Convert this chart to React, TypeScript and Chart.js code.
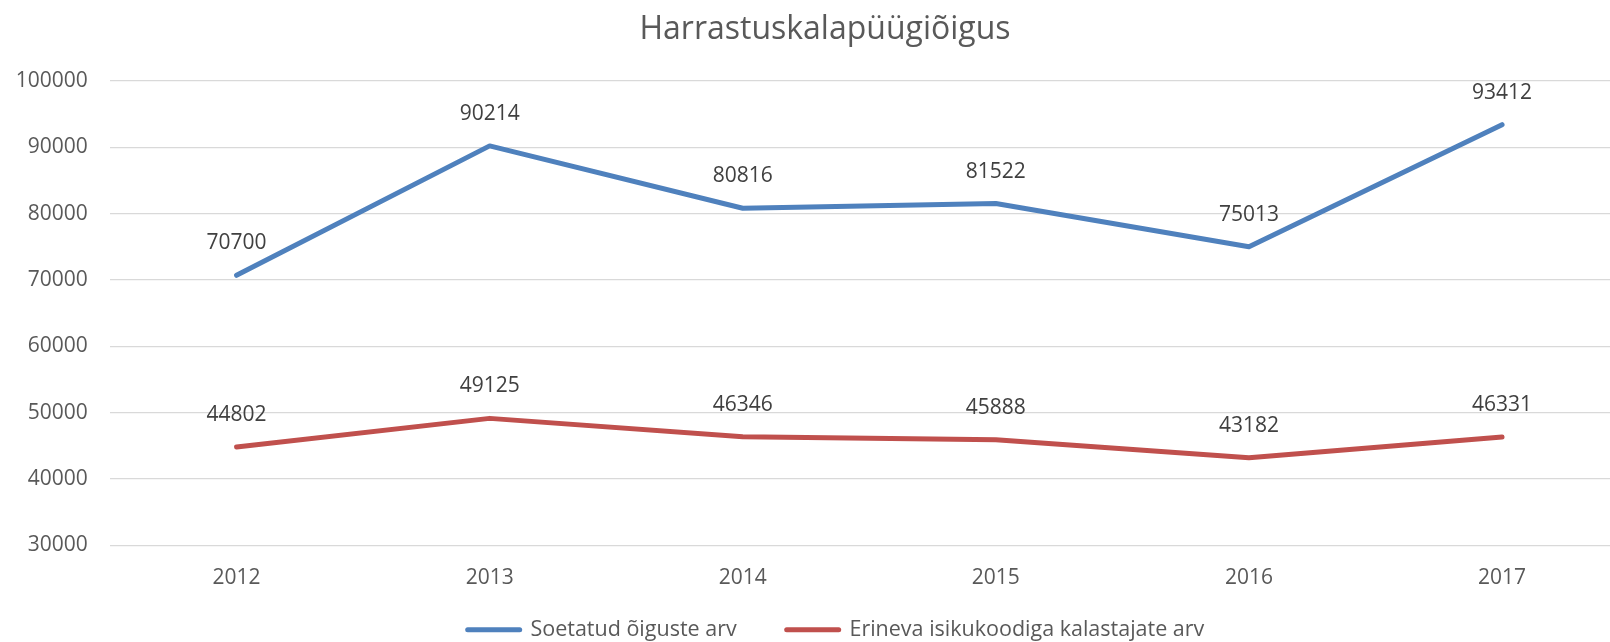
import React, { useEffect, useRef } from 'react';
import { Chart, registerables } from 'chart.js';

Chart.register(...registerables);

const titleText = 'Harrastuskalapüügiõigus';
const categories = ['2012', '2013', '2014', '2015', '2016', '2017'];
const soetatudValues = [70700, 90214, 80816, 81522, 75013, 93412];
const erinevaValues = [44802, 49125, 46346, 45888, 43182, 46331];
const seriesNames = ['Soetatud õiguste arv', 'Erineva isikukoodiga kalastajate arv'];
const seriesColors = ['#4F81BD', '#C0504D'];
const yTickValues = [30000, 40000, 50000, 60000, 70000, 80000, 90000, 100000];

const FONT = "'Open Sans', sans-serif";
const AXIS_COLOR = '#595959';
const LABEL_COLOR = '#404040';

const dataLabelPlugin = {
  id: 'dataLabels',
  afterDatasetsDraw(chart: any) {
    const ctx = chart.ctx;
    ctx.save();
    ctx.font = `21px ${FONT}`;
    ctx.fillStyle = LABEL_COLOR;
    ctx.textAlign = 'center';
    ctx.textBaseline = 'middle';
    chart.data.datasets.forEach((ds: any, i: number) => {
      const meta = chart.getDatasetMeta(i);
      meta.data.forEach((el: any, j: number) => {
        ctx.fillText(String(ds.data[j]), el.x, el.y - 32);
      });
    });
    ctx.restore();
  },
};

const legendShiftPlugin = {
  id: 'legendShift',
  afterLayout(chart: any) {
    if (chart.legend) {
      chart.legend.left += 11;
      chart.legend.right += 11;
    }
  },
};

export default function App() {
  const canvasRef = useRef<HTMLCanvasElement | null>(null);

  useEffect(() => {
    if (!canvasRef.current) return;
    const chart = new Chart(canvasRef.current, {
      type: 'line',
      data: {
        labels: categories,
        datasets: [
          {
            label: seriesNames[0],
            data: soetatudValues,
            borderColor: seriesColors[0],
            backgroundColor: seriesColors[0],
            borderWidth: 5,
            pointRadius: 0,
            pointHoverRadius: 0,
            tension: 0,
            fill: false,
            borderCapStyle: 'round',
            borderJoinStyle: 'round',
          },
          {
            label: seriesNames[1],
            data: erinevaValues,
            borderColor: seriesColors[1],
            backgroundColor: seriesColors[1],
            borderWidth: 5,
            pointRadius: 0,
            pointHoverRadius: 0,
            tension: 0,
            fill: false,
            borderCapStyle: 'round',
            borderJoinStyle: 'round',
          },
        ],
      },
      options: {
        animation: false,
        responsive: true,
        maintainAspectRatio: false,
        layout: { padding: { left: 0, right: 0, top: 0, bottom: -8.5 } },
        plugins: {
          title: {
            display: true,
            text: titleText,
            color: AXIS_COLOR,
            font: { family: FONT, size: 32, weight: 'normal', lineHeight: 1.2 },
            padding: { top: 10.8, bottom: 31.8 },
          },
          legend: {
            position: 'bottom',
            labels: {
              usePointStyle: true,
              pointStyleWidth: 52,
              boxHeight: 5,
              padding: 50,
              color: AXIS_COLOR,
              font: { family: FONT, size: 21.5 },
              generateLabels: (c: any) =>
                c.data.datasets.map((ds: any, i: number) => ({
                  text: ds.label,
                  fillStyle: ds.borderColor,
                  strokeStyle: ds.borderColor,
                  lineWidth: 5,
                  lineCap: 'round',
                  pointStyle: 'line',
                  hidden: false,
                  datasetIndex: i,
                  fontColor: AXIS_COLOR,
                })),
            },
          },
          tooltip: { enabled: false },
        },
        scales: {
          x: {
            type: 'category',
            offset: true,
            grid: { display: false },
            border: { display: false },
            ticks: {
              color: AXIS_COLOR,
              font: { family: FONT, size: 21 },
              padding: 12,
              maxRotation: 0,
              autoSkip: false,
            },
            afterFit: (s: any) => {
              s.height = 23.8;
              s._computeLabelArea = () => null;
            },
          },
          y: {
            type: 'linear',
            position: 'left',
            min: yTickValues[0],
            max: yTickValues[yTickValues.length - 1],
            grid: { color: '#D9D9D9', lineWidth: 1.3, drawTicks: false },
            border: { display: false },
            ticks: {
              color: AXIS_COLOR,
              font: { family: FONT, size: 21 },
              padding: 22.3,
              callback: (v: any) => String(v),
            },
            afterBuildTicks: (s: any) => {
              s.ticks = yTickValues.map((v) => ({ value: v }));
            },
            afterFit: (s: any) => {
              s.width = 110;
            },
          },
          yRight: {
            type: 'linear',
            position: 'right',
            display: true,
            grid: { display: false },
            border: { display: false },
            ticks: { display: false },
            afterFit: (s: any) => {
              s.width = 21.4;
            },
          },
        },
      },
      plugins: [dataLabelPlugin, legendShiftPlugin],
    } as any);
    return () => chart.destroy();
  }, []);

  return (
    <div
      style={{
        position: 'fixed',
        left: 0,
        top: 0,
        width: 1610,
        height: 642,
        overflow: 'hidden',
        background: '#ffffff',
      }}
    >
      <div style={{ position: 'relative', width: 1650, height: 642 }}>
        <canvas ref={canvasRef} />
      </div>
    </div>
  );
}
